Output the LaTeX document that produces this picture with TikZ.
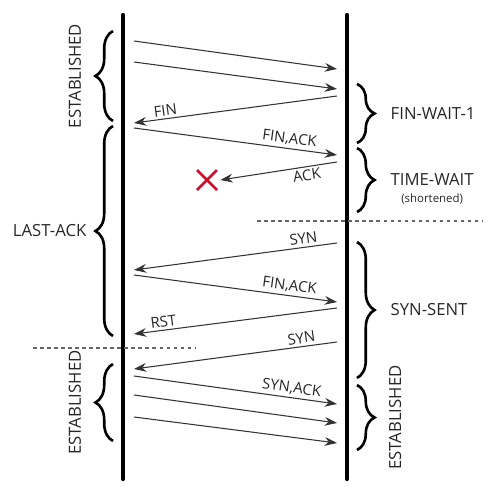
\documentclass[tikz,border=0pt]{standalone}
\usepackage{fontspec}
\setmainfont{Open Sans}
\usepackage{tikz}
\usetikzlibrary{arrows.meta,positioning,calc,decorations.pathreplacing}
\definecolor{xred}{HTML}{C8102E}
\tikzset{
    lifeline/.style={
        line width=2.4pt,         % the two hosts: heavy black vertical lines
        line cap=round
    },
    msg/.style={
        draw=black!80,
        line width=0.6pt,
        -{Stealth[length=7pt,width=5pt]}
    },
    msglabel/.style={
        font=\fontsize{8.5}{10}\selectfont,
        text=black!85,
        sloped,
        inner sep=1.5pt
    },
    statelabel/.style={
        font=\fontsize{9.5}{11}\selectfont,
        text=black!85,
        inner sep=1pt
    },
    statebrace/.style={
        decorate,
        decoration={brace,amplitude=10pt},
        line width=1.5pt
    },
    separator/.style={
        draw=black!60,
        line width=0.6pt,
        dash pattern=on 2pt off 2pt
    }
}

\begin{document}
\begin{tikzpicture}[x=0.02cm,y=-0.02cm]
    \useasboundingbox (0,0) rectangle (497,501);

    % hosts
    \coordinate (atop) at (123,15);
    \coordinate (abot) at (123,479);
    \coordinate (btop) at (347,15);
    \coordinate (bbot) at (347,479);
    \draw[lifeline] (atop) -- (abot);
    \draw[lifeline] (btop) -- (bbot);

    % message end points, a = left host, b = right host
    \coordinate (a1) at (134,41);   \coordinate (b1) at (337,69);
    \coordinate (a2) at (134,62);   \coordinate (b2) at (337,89);
    \coordinate (b3) at (337,96);   \coordinate (a3) at (134,123);
    \coordinate (a4) at (134,128);  \coordinate (b4) at (337,155);
    \coordinate (b5) at (337,162);
    \coordinate (b6) at (337,243);  \coordinate (a6) at (134,270);
    \coordinate (a7) at (134,275);  \coordinate (b7) at (337,302);
    \coordinate (b8) at (337,308);  \coordinate (a8) at (134,334);
    \coordinate (b9) at (337,342);  \coordinate (a9) at (134,369);
    \coordinate (a10) at (134,376); \coordinate (b10) at (337,404);
    \coordinate (a11) at (134,395); \coordinate (b11) at (337,423);
    \coordinate (a12) at (134,417); \coordinate (b12) at (337,443);

    % lost ACK
    \node[inner sep=0pt, minimum size=20\pgflinewidth] (lost) at (207,180) {};
    \draw[xred, line width=1.6pt] (197,170) -- (217,190) (197,190) -- (217,170);

    \draw[msg] (a1) -- (b1);
    \draw[msg] (a2) -- (b2);
    \draw[msg] (b3) -- node[msglabel, above, pos=0.84] {FIN} (a3);
    \draw[msg] (a4) -- node[msglabel, above, pos=0.76] {FIN,ACK} (b4);
    \draw[msg] (b5) -- node[msglabel, below, pos=0.27] {ACK} ($(lost.east)+(6,0)$);
    \draw[msg] (b6) -- node[msglabel, above, pos=0.16] {SYN} (a6);
    \draw[msg] (a7) -- node[msglabel, above, pos=0.76] {FIN,ACK} (b7);
    \draw[msg] (b8) -- node[msglabel, above, pos=0.85] {RST} (a8);
    \draw[msg] (b9) -- node[msglabel, above, pos=0.17] {SYN} (a9);
    \draw[msg] (a10) -- node[msglabel, above, pos=0.77] {SYN,ACK} (b10);
    \draw[msg] (a11) -- (b11);
    \draw[msg] (a12) -- (b12);

    % separators
    \draw[separator] (257,221) -- (483,221);
    \draw[separator] (33,348) -- (195,348);

    % states of the left host
    \draw[statebrace] (113,121) -- coordinate[xshift=-12pt] (estA) (113,31);
    \draw[statebrace] (113,336) -- coordinate[xshift=-12pt] (lastack) (113,126);
    \draw[statebrace] (113,441) -- coordinate[xshift=-12pt] (estB) (113,364);
    \node[statelabel, rotate=90, left=5pt of estA, anchor=south] {ESTABLISHED};
    \node[statelabel, left=2pt of lastack] {LAST-ACK};
    \node[statelabel, rotate=90, left=5pt of estB, anchor=south] {ESTABLISHED};

    % states of the right host
    \draw[statebrace] (357,84) -- coordinate[xshift=12pt] (finwait) (357,143);
    \draw[statebrace] (357,148) -- coordinate[xshift=12pt] (timewait) (357,212);
    \draw[statebrace] (357,242) -- coordinate[xshift=12pt] (synsent) (357,378);
    \draw[statebrace] (357,385) -- coordinate[xshift=12pt] (estC) (357,450);
    \node[statelabel, right=6pt of finwait] {FIN-WAIT-1};
    \node[statelabel, right=6pt of timewait] (tw) {TIME-WAIT};
    \node[font=\fontsize{6.5}{7}\selectfont, text=black!85, below=0pt of tw] {(shortened)};
    \node[statelabel, right=6pt of synsent] {SYN-SENT};
    \node[statelabel, rotate=90, right=5pt of estC, anchor=north] {ESTABLISHED};
\end{tikzpicture}
\end{document}
